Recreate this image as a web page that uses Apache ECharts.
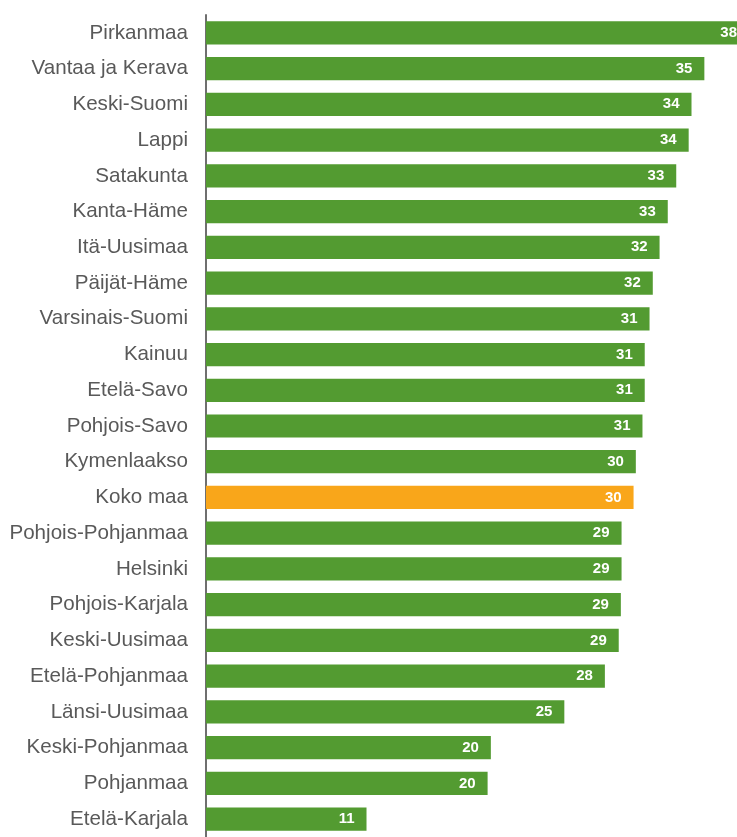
<!DOCTYPE html>
<html>
<head>
<meta charset="utf-8">
<script src="https://cdn.jsdelivr.net/npm/echarts@6/dist/echarts.min.js"></script>
<style>html,body{margin:0;padding:0;background:#fff;}#c{width:737px;height:837px;}</style>
</head>
<body>
<div id="c"></div>
<script>
const categories = ["Pirkanmaa","Vantaa ja Kerava","Keski-Suomi","Lappi","Satakunta","Kanta-Häme","Itä-Uusimaa","Päijät-Häme","Varsinais-Suomi","Kainuu","Etelä-Savo","Pohjois-Savo","Kymenlaakso","Koko maa","Pohjois-Pohjanmaa","Helsinki","Pohjois-Karjala","Keski-Uusimaa","Etelä-Pohjanmaa","Länsi-Uusimaa","Keski-Pohjanmaa","Pohjanmaa","Etelä-Karjala"];
const values = [38.3,35.27,34.36,34.16,33.28,32.68,32.10,31.62,31.39,31.05,31.05,30.89,30.42,30.26,29.41,29.41,29.36,29.21,28.23,25.36,20.16,19.93,11.36];
const shownLabels = [38,35,34,34,33,33,32,32,31,31,31,31,30,30,29,29,29,29,28,25,20,20,11];
const highlight = "Koko maa";
const xMax = 37.58;

const green = "#539B31";
const orange = "#F9A61A";

const chart = echarts.init(document.getElementById('c'), null, {renderer:'canvas'});
chart.setOption({
  animation: false,
  grid: {left: 206, top: 15, right: 0, height: 829, containLabel: false},
  xAxis: {type: 'value', min: 0, max: xMax, show: false, splitLine: {show: false}},
  yAxis: {
    type: 'category', data: categories, inverse: true,
    axisLine: {show: true, lineStyle: {color: '#6f6f6f', width: 2}},
    axisTick: {show: false},
    axisLabel: {color: '#595959', fontFamily: 'Liberation Sans', fontSize: 20.6, margin: 18, padding: [3, 0, 0, 0]}
  },
  series: [{
    type: 'bar',
    barCategoryGap: '35%',
    data: values.map((v, i) => ({
      value: v,
      itemStyle: {color: categories[i] === highlight ? orange : green},
      label: v > xMax ? {distance: 0} : undefined
    })),
    label: {
      show: true, position: 'insideRight', distance: 12,
      color: '#fff', fontFamily: 'Liberation Sans', fontWeight: 'bold', fontSize: 15,
      formatter: p => String(shownLabels[p.dataIndex])
    }
  }]
});
</script>
</body>
</html>
